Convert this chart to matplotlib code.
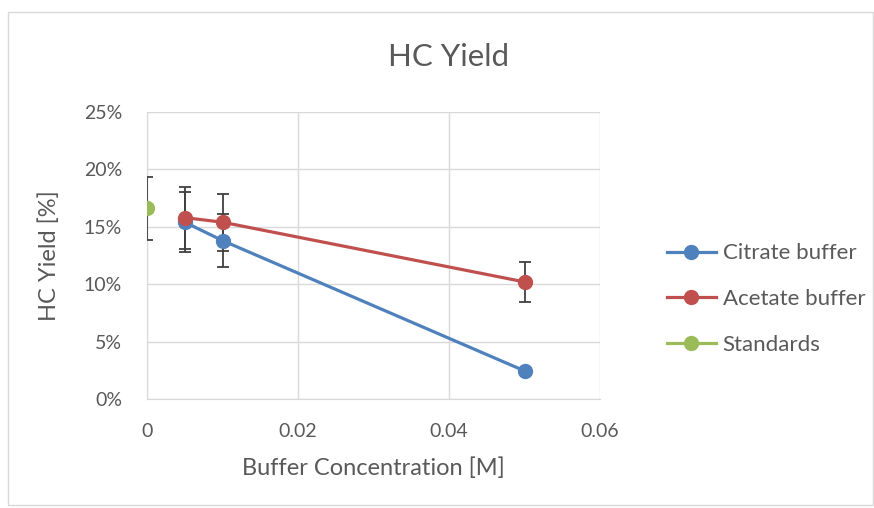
import numpy as np
import matplotlib.pyplot as plt
from matplotlib.ticker import FuncFormatter
from matplotlib.patches import Rectangle

plt.rcParams['font.family'] = ['Lato', 'DejaVu Sans']

# data
citrate_x = [0.005, 0.01, 0.05]
citrate_y = [15.4, 13.8, 2.45]
citrate_err = [2.6, 2.3, 0.0]

acetate_x = [0.005, 0.01, 0.05]
acetate_y = [15.8, 15.4, 10.2]
acetate_err = [2.7, 2.5, 1.75]

standards_x = [0.0]
standards_y = [16.6]
standards_err = [2.75]

text_col = '#595959'
grid_col = '#d9d9d9'

fig = plt.figure(figsize=(8.74, 5.08), dpi=100)
fig.patches.append(Rectangle((8 / 874, 0.005), 1 - 9 / 874, 1 - 12 / 508 - 0.005,
                             transform=fig.transFigure, fill=False,
                             edgecolor=grid_col, linewidth=1))
ax = fig.add_axes([147 / 874, 109 / 508, 453 / 874, 287 / 508])

series = [
    ('Citrate buffer', citrate_x, citrate_y, citrate_err, '#4f81bd'),
    ('Acetate buffer', acetate_x, acetate_y, acetate_err, '#c0504d'),
    ('Standards', standards_x, standards_y, standards_err, '#9bbb59'),
]
for name, x, y, e, c in series:
    ax.errorbar(x, y, yerr=e, fmt='none', ecolor='#404040', elinewidth=1.3,
                capsize=4.5, capthick=1.3, zorder=3)
    ax.plot(x, y, color=c, linewidth=2.3, marker='o', markersize=10,
            label=name, zorder=4)

ax.set_xlim(0, 0.06)
ax.set_ylim(0, 25)
ax.set_xticks([0, 0.02, 0.04, 0.06])
ax.set_xticklabels(['0', '0.02', '0.04', '0.06'])
ax.set_yticks(np.arange(0, 26, 5))
ax.yaxis.set_major_formatter(FuncFormatter(lambda v, p: f'{v:.0f}%'))
ax.grid(True, color=grid_col, linewidth=1)
ax.set_axisbelow(True)
for s in ax.spines.values():
    s.set_visible(False)
ax.spines['left'].set_visible(True)
ax.spines['bottom'].set_visible(True)
ax.spines['left'].set_color(grid_col)
ax.spines['bottom'].set_color(grid_col)
ax.tick_params(length=0, labelsize=14, colors=text_col)
ax.tick_params(axis='x', pad=17)
ax.tick_params(axis='y', pad=18)

ax.set_xlabel('Buffer Concentration [M]', fontsize=17, color=text_col, labelpad=13)
ax.set_ylabel('HC Yield [%]', fontsize=17, color=text_col)
ax.yaxis.set_label_coords(-(147 - 60) / 453, 0.5)
fig.text(449 / 874, 1 - 57 / 508, 'HC Yield', fontsize=22.5, color=text_col,
         ha='center', va='center')

leg = fig.legend(loc='center left', bbox_to_anchor=(647 / 874, 1 - 299 / 508),
                 frameon=False, fontsize=16, labelspacing=1.15, handlelength=2.2,
                 handletextpad=0.3)
for t in leg.get_texts():
    t.set_color(text_col)

fig.savefig('out.png', dpi=100)
